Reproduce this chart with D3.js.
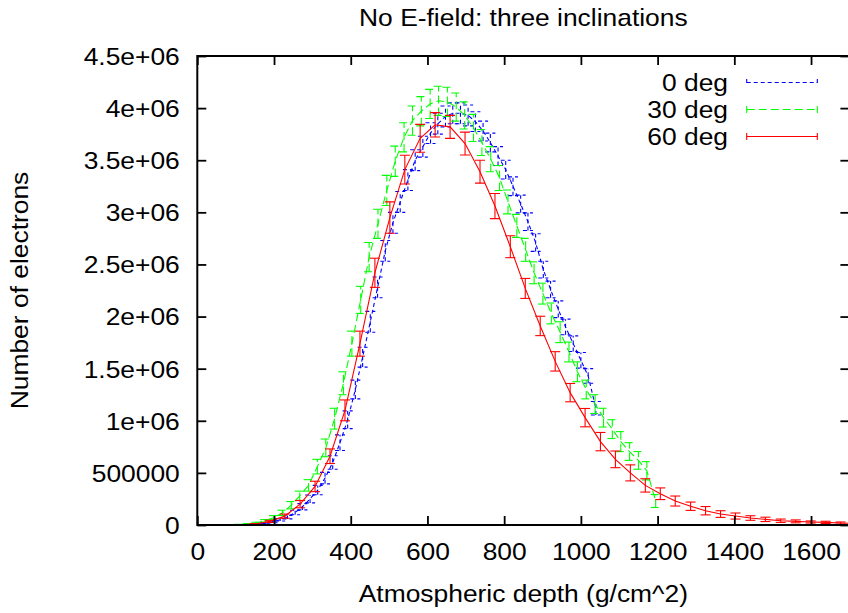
<!DOCTYPE html>
<html><head><meta charset="utf-8">
<script src="https://cdn.jsdelivr.net/npm/d3@7/dist/d3.min.js"></script>
<style>
body{margin:0;background:#fff}
text{font-family:"Liberation Sans",Arial,Helvetica,sans-serif;fill:#000}
</style>
</head><body>
<svg id="chart" width="848" height="613"></svg>
<script>
// ---------- data ----------
const xTickValues = [0,200,400,600,800,1000,1200,1400,1600];
const yTickValues = [0,500000,1000000,1500000,2000000,2500000,3000000,3500000,4000000,4500000];
const yTickLabels = ["0","500000","1e+06","1.5e+06","2e+06","2.5e+06","3e+06","3.5e+06","4e+06","4.5e+06"];
const seriesNames = ["0 deg","30 deg","60 deg"];

// 0 deg (values in millions of electrons)
const depth0 = [98,118,137,157,176,196,216,235,255,274,294,314,333,353,372,392,412,431,451,470,490,510,529,549,568,588,608,627,647,666,686,706,725,745,764,784,804,823,843,862,882,902,921,941,960,980,1000,1019,1039];
const n0 = [0.000,0.002,0.004,0.008,0.015,0.030,0.05,0.075,0.12,0.175,0.25,0.335,0.45,0.60,0.79,1.01,1.30,1.61,1.95,2.28,2.63,2.90,3.10,3.31,3.50,3.63,3.76,3.85,3.92,3.95,3.95,3.93,3.87,3.78,3.67,3.54,3.41,3.25,3.08,2.91,2.71,2.45,2.26,2.07,1.90,1.74,1.58,1.43,1.12];
const err0 = [0,0.001,0.002,0.003,0.005,0.008,0.012,0.016,0.022,0.03,0.038,0.045,0.055,0.065,0.075,0.085,0.09,0.095,0.10,0.10,0.10,0.10,0.10,0.10,0.10,0.10,0.10,0.10,0.10,0.10,0.10,0.10,0.095,0.095,0.09,0.09,0.09,0.09,0.085,0.085,0.085,0.08,0.08,0.08,0.075,0.075,0.075,0.07,0.065];

// 30 deg
const depth30 = [86,109,132,154,177,200,222,245,267,290,313,335,358,381,403,426,448,471,494,516,539,561,584,607,629,652,675,697,720,742,765,788,810,833,856,878,901,923,946,969,991,1014,1037,1059,1082,1104,1127,1150,1172,1195];
const n30 = [0.000,0.004,0.01,0.02,0.04,0.072,0.117,0.19,0.28,0.38,0.56,0.74,1.02,1.36,1.74,2.16,2.57,2.89,3.21,3.49,3.72,3.88,3.97,4.04,4.07,4.06,4.01,3.93,3.81,3.67,3.51,3.33,3.10,2.87,2.64,2.42,2.22,2.03,1.85,1.66,1.47,1.30,1.16,1.03,0.92,0.80,0.705,0.62,0.52,0.23];
const err30 = [0,0.002,0.004,0.007,0.012,0.018,0.025,0.035,0.045,0.055,0.07,0.085,0.10,0.11,0.12,0.13,0.14,0.14,0.145,0.145,0.14,0.14,0.14,0.14,0.14,0.14,0.135,0.13,0.13,0.125,0.12,0.12,0.115,0.11,0.11,0.105,0.10,0.10,0.10,0.095,0.095,0.09,0.09,0.09,0.09,0.096,0.085,0.085,0.088,0.062];

// 60 deg
const depth60 = [111,150,189,228,268,307,346,385,424,463,502,541,581,620,659,698,737,776,816,855,894,933,972,1011,1051,1090,1129,1168,1207,1246,1286,1325,1364,1403,1442,1481,1521,1560,1599,1638,1677,1716];
const n60 = [0.002,0.010,0.035,0.085,0.20,0.37,0.66,1.10,1.74,2.42,2.95,3.41,3.71,3.84,3.82,3.66,3.39,3.06,2.67,2.27,1.91,1.57,1.27,1.03,0.80,0.63,0.50,0.38,0.30,0.23,0.18,0.137,0.105,0.086,0.067,0.054,0.041,0.035,0.029,0.025,0.019,0.015];
const err60 = [0.001,0.004,0.01,0.02,0.035,0.05,0.07,0.10,0.12,0.14,0.15,0.138,0.134,0.117,0.11,0.11,0.11,0.12,0.105,0.096,0.093,0.093,0.088,0.088,0.088,0.08,0.077,0.064,0.056,0.048,0.04,0.04,0.032,0.029,0.022,0.021,0.016,0.014,0.01,0.011,0.01,0.01];

// ---------- layout ----------
const L = 197.3, R = 849.4, T = 56, B = 525;
const FS = 24, SX = 1.1;   // font size and horizontal glyph stretch
const svg = d3.select("#chart");

const x = d3.scaleLinear().domain([0,1700]).range([L,R]);
const y = d3.scaleLinear().domain([0,4500000]).range([B,T]);

svg.append("defs").append("clipPath").attr("id","clip")
  .append("rect").attr("x",L).attr("y",T).attr("width",R-L).attr("height",B-T);

const series = [
  {name:seriesNames[0], depth:depth0, n:n0, err:err0, color:"#0000ff", dash:"4,3"},
  {name:seriesNames[1], depth:depth30, n:n30, err:err30, color:"#00ff00", dash:"8,4"},
  {name:seriesNames[2], depth:depth60, n:n60, err:err60, color:"#ff0000", dash:null}
];

const plot = svg.append("g").attr("clip-path","url(#clip)");
const line = d3.line().x(d=>x(d.d)).y(d=>y(d.v));
const cap = 5;

series.forEach(s=>{
  const pts = s.depth.map((d,i)=>({d:d, v:s.n[i]*1e6, e:s.err[i]*1e6}));
  const g = plot.append("g");
  g.append("path").datum(pts).attr("d",line)
    .attr("fill","none").attr("stroke",s.color).attr("stroke-width",1.1)
    .attr("stroke-dasharray",s.dash);
  const eb = g.selectAll("g.eb").data(pts).enter().append("g");
  eb.append("line").attr("x1",d=>x(d.d)).attr("x2",d=>x(d.d))
    .attr("y1",d=>y(d.v-d.e)).attr("y2",d=>y(d.v+d.e));
  eb.append("line").attr("x1",d=>x(d.d)-cap).attr("x2",d=>x(d.d)+cap)
    .attr("y1",d=>y(d.v-d.e)).attr("y2",d=>y(d.v-d.e));
  eb.append("line").attr("x1",d=>x(d.d)-cap).attr("x2",d=>x(d.d)+cap)
    .attr("y1",d=>y(d.v+d.e)).attr("y2",d=>y(d.v+d.e));
  eb.selectAll("line").attr("stroke",s.color).attr("stroke-width",1.1)
    .attr("stroke-dasharray",s.dash);
});

// ---------- axes ----------
const tickLen = 9;
const axB = svg.append("g").attr("transform",`translate(0,${B})`)
  .call(d3.axisBottom(x).tickValues(xTickValues).tickSizeInner(-tickLen).tickSizeOuter(0).tickPadding(0).tickFormat(d3.format("d")));
axB.selectAll("text").attr("x",0).attr("y",0).attr("dy","0.35em")
  .attr("transform",`translate(0,27) scale(${SX},1)`);
const axT = svg.append("g").attr("transform",`translate(0,${T})`)
  .call(d3.axisTop(x).tickValues(xTickValues).tickSizeInner(-tickLen).tickSizeOuter(0).tickFormat(""));
const axLft = svg.append("g").attr("transform",`translate(${L},0)`)
  .call(d3.axisLeft(y).tickValues(yTickValues).tickSizeInner(-tickLen).tickSizeOuter(0).tickPadding(17)
    .tickFormat((d,i)=>yTickLabels[i]));
axLft.selectAll("text").attr("x",0).attr("dy","0.35em")
  .attr("transform",`translate(-17.5,0) scale(${SX},1)`);
const axRt = svg.append("g").attr("transform",`translate(${R},0)`)
  .call(d3.axisRight(y).tickValues(yTickValues).tickSizeInner(-tickLen).tickSizeOuter(0).tickFormat(""));

[axB,axT,axLft,axRt].forEach(a=>{
  a.select(".domain").remove();
  a.selectAll(".tick line").attr("stroke","#000").attr("stroke-width",1.8);
  a.selectAll("text").attr("font-size",FS).attr("font-family","'Liberation Sans',Arial,sans-serif").attr("fill","#000");
});

svg.append("rect").attr("x",L).attr("y",T).attr("width",R-L).attr("height",B-T)
  .attr("fill","none").attr("stroke","#000").attr("stroke-width",2);

// ---------- texts ----------
function label(tx, ty, str, anchor, rot){
  return svg.append("text")
    .attr("transform",`translate(${tx},${ty})${rot?` rotate(${rot})`:""} scale(${SX},1)`)
    .attr("dy","0.35em").attr("text-anchor",anchor).attr("font-size",FS).text(str);
}
label((L+R)/2, 18, "No E-field: three inclinations", "middle");
label((L+R)/2, 594, "Atmospheric depth (g/cm^2)", "middle");
label(20, (T+B)/2, "Number of electrons", "middle", -90);

// ---------- legend ----------
const legY = [82.5,109.5,136.5];
const sx1 = 746.7, sx2 = 817.3;
series.forEach((s,i)=>{
  label(728, legY[i], s.name, "end");
  const g = svg.append("g").attr("stroke",s.color).attr("stroke-width",1.1).attr("stroke-dasharray",s.dash);
  g.append("line").attr("x1",sx1).attr("x2",sx2).attr("y1",legY[i]).attr("y2",legY[i]);
  g.append("line").attr("x1",sx1).attr("x2",sx1).attr("y1",legY[i]-3.5).attr("y2",legY[i]+3.5);
  g.append("line").attr("x1",sx2).attr("x2",sx2).attr("y1",legY[i]-3.5).attr("y2",legY[i]+3.5);
});
</script>
</body></html>
